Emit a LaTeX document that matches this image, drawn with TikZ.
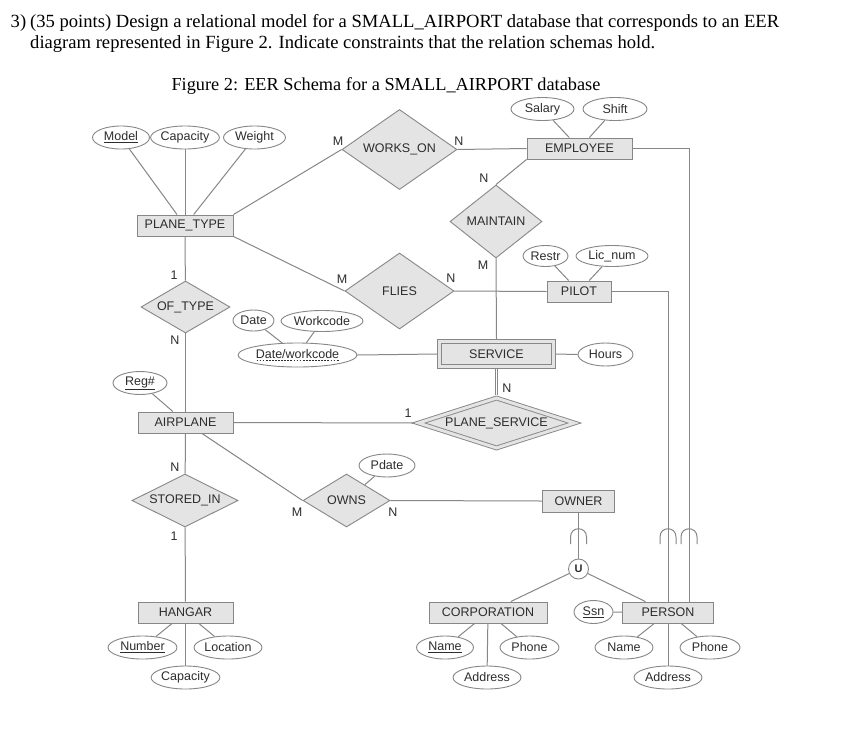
\documentclass[tikz,border=0pt]{standalone}
\usepackage{fontspec}
\setmainfont{Liberation Serif}
\setsansfont{Liberation Sans}
\usetikzlibrary{shapes.geometric}

\definecolor{linegray}{RGB}{135,135,135}
\definecolor{boxgray}{RGB}{228,228,228}
\definecolor{txtgray}{RGB}{45,45,45}

% dashed underline for a partial key
\newcommand{\dashunder}[1]{\setbox0=\hbox{#1}\rlap{\copy0}\raisebox{-2.5pt}{\hbox to \wd0{\xleaders\hbox to 3pt{\hss\vrule height 0.6pt width 1.8pt\hss}\hfill}}}

\begin{document}
\begin{tikzpicture}[
    x=1pt, y=-1pt,
    font=\sffamily\fontsize{12.5}{14}\selectfont,
    entity/.style={rectangle, draw=linegray, line width=0.9pt, fill=boxgray, text=txtgray, minimum height=21pt, inner sep=0pt},
    weak/.style={entity, double=boxgray, double distance=3pt, outer sep=2.5pt},
    relation/.style={diamond, draw=linegray, line width=0.9pt, fill=boxgray, text=txtgray, inner sep=0pt},
    weakrel/.style={relation, double=boxgray, double distance=3pt, outer sep=2.5pt},
    attr/.style={ellipse, draw=linegray, line width=0.9pt, fill=white, text=txtgray, minimum height=23pt, inner sep=0pt},
    card/.style={text=txtgray, inner sep=0pt},
    link/.style={draw=linegray, line width=1pt},
    header/.style={font=\rmfamily\fontsize{18.6}{22}\selectfont, anchor=base west, inner sep=0pt}
]
\fill [white] (0, 0) rectangle (845, 731);
\useasboundingbox (0, 0) rectangle (845, 731);

% --- Question text ---
\node (qnum) at (10.5, 27) [header] {3)};
\node (qline1) at (30, 27) [header] {(35 points) Design a relational model for a SMALL\_AIRPORT database that corresponds to an EER};
\node (qline2) at (30, 48) [header] {diagram represented in Figure 2. Indicate constraints that the relation schemas hold.};
\node (caption) at (386, 90) [header, anchor=base, font=\rmfamily\fontsize{18.3}{22}\selectfont] {Figure 2: EER Schema for a SMALL\_AIRPORT database};

% --- Nodes ---
% Plane type
\node (model) at (121, 137.5) [attr, minimum width=57pt] {\underline{Model}};
\node (capacity) at (185, 137.5) [attr, minimum width=66pt] {Capacity};
\node (weight) at (254.5, 137.5) [attr, minimum width=62pt] {Weight};
\node (ptype) at (185, 225.5) [entity, minimum width=96pt] {PLANE\_TYPE};

% Employee side
\node (workson) at (399.5, 149.5) [relation, aspect=1.44, minimum width=115pt, minimum height=80pt] {WORKS\_ON};
\node (employee) at (579.5, 148.5) [entity, minimum width=105pt] {EMPLOYEE};
\node (salary) at (542.5, 109) [attr, minimum width=63pt] {Salary};
\node (shift) at (615, 109) [attr, minimum width=64pt] {Shift};
\node (maintain) at (496, 221.5) [relation, aspect=1.26, minimum width=92pt, minimum height=73pt] {MAINTAIN};

% Pilot
\node (flies) at (399.5, 291) [relation, aspect=1.43, minimum width=109pt, minimum height=76pt] {FLIES};
\node (pilot) at (579, 291.5) [entity, minimum width=64pt] {PILOT};
\node (restr) at (545.5, 256) [attr, minimum width=45pt, minimum height=21pt] {Restr};
\node (licnum) at (612, 256) [attr, minimum width=72pt, minimum height=21pt] {Lic\_num};

% Airplane
\node (oftype) at (185.5, 307) [relation, aspect=1.71, minimum width=89pt, minimum height=52pt] {OF\_TYPE};
\node (airplane) at (185.5, 422.5) [entity, minimum width=95pt] {AIRPLANE};
\node (regno) at (140, 383) [attr, minimum width=54pt] {\underline{Reg\#}};

% Service (weak entity)
\node (service) at (496.5, 354) [weak, minimum width=114pt, minimum height=25pt] {SERVICE};
\node (hours) at (605.5, 354.5) [attr, minimum width=55pt] {Hours};
\node (datework) at (297.5, 355) [attr, minimum width=119pt, minimum height=24pt] {\dashunder{Date/workcode}};
\node (date) at (253.5, 320.5) [attr, minimum width=41pt, minimum height=21pt] {Date};
\node (workcode) at (322, 321) [attr, minimum width=82pt, minimum height=21pt] {Workcode};
\node (planeserv) at (496.5, 423) [weakrel, aspect=3.04, minimum width=158pt, minimum height=52pt] {PLANE\_SERVICE};

% Owns
\node (owns) at (346.5, 500.5) [relation, aspect=1.64, minimum width=87pt, minimum height=53pt] {OWNS};
\node (pdate) at (387, 465.5) [attr, minimum width=56pt] {Pdate};
\node (owner) at (578.5, 501) [entity, minimum width=72pt, minimum height=22pt] {OWNER};

% Hangar
\node (storedin) at (185, 500.5) [relation, aspect=2, minimum width=106pt, minimum height=53pt] {STORED\_IN};
\node (hangar) at (185.5, 612.5) [entity, minimum width=95pt] {HANGAR};
\node (hnumber) at (142.5, 647.5) [attr, minimum width=69pt] {\underline{Number}};
\node (hlocation) at (228, 647.5) [attr, minimum width=68pt] {Location};
\node (hcapacity) at (185.5, 677.5) [attr, minimum width=68pt] {Capacity};

% Union category
\node (union) at (578.5, 569) [circle, draw=linegray, line width=0.9pt, fill=white, minimum size=20pt, inner sep=0pt, text=txtgray, font=\sffamily\bfseries\fontsize{11}{12}\selectfont] {U};
\node (corp) at (488, 612.5) [entity, minimum width=118pt] {CORPORATION};
\node (cname) at (445, 647.5) [attr, minimum width=57pt] {\underline{Name}};
\node (cphone) at (529.5, 647.5) [attr, minimum width=59pt] {Phone};
\node (caddress) at (487, 677.5) [attr, minimum width=68pt] {Address};
\node (person) at (668, 612.5) [entity, minimum width=91pt] {PERSON};
\node (ssn) at (593.5, 612) [attr, minimum width=39pt] {\underline{Ssn}};
\node (pname) at (624, 647.5) [attr, minimum width=58pt] {Name};
\node (pphone) at (710, 647.5) [attr, minimum width=60pt] {Phone};
\node (paddress) at (668, 677.5) [attr, minimum width=68pt] {Address};

% Cardinalities
\node (cmwork) at (338, 141) [card] {M};
\node (cnwork) at (459, 141) [card] {N};
\node (cnmain) at (484, 178) [card] {N};
\node (cmmain) at (483, 265) [card] {M};
\node (c1type) at (174, 275) [card] {1};
\node (cntype) at (175, 340) [card] {N};
\node (cmflies) at (342, 279) [card] {M};
\node (cnflies) at (451, 278) [card] {N};
\node (c1serv) at (408, 413) [card] {1};
\node (cnserv) at (507, 388) [card] {N};
\node (cnstore) at (175, 467) [card] {N};
\node (c1store) at (174, 536) [card] {1};
\node (cmowns) at (297, 512) [card] {M};
\node (cnowns) at (393, 512) [card] {N};

% --- Edges ---
% Attributes
\draw [link] (model) -- (ptype);
\draw [link] (capacity) -- (ptype);
\draw [link] (weight) -- (ptype);
\draw [link] (salary) -- (employee);
\draw [link] (shift) -- (employee);
\draw [link] (restr) -- (pilot);
\draw [link] (licnum) -- (pilot);
\draw [link] (regno) -- (airplane);
\draw [link] (date) -- (datework);
\draw [link] (workcode) -- (datework);
\draw [link] (datework.east) -- (service.west);
\draw [link] (service.east) -- (hours.west);
\draw [link] (pdate) -- (owns);
\draw [link] (hangar) -- (hnumber);
\draw [link] (hangar) -- (hlocation);
\draw [link] (hangar) -- (hcapacity);
\draw [link] (corp) -- (cname);
\draw [link] (corp) -- (cphone);
\draw [link] (corp) -- (caddress);
\draw [link] (ssn) -- (person);
\draw [link] (person) -- (pname);
\draw [link] (person) -- (pphone);
\draw [link] (person) -- (paddress);

% Relationships
\draw [link] (ptype.north east) -- (workson.west);
\draw [link] (workson.east) -- (employee.west);
\draw [link] (employee.south west) -- (maintain.north);
\draw [link] (maintain.south) -- (service.north);
\draw [link] (ptype.south east) -- (flies.west);
\draw [link] (flies.east) -- (pilot.west);
\draw [link] (ptype) -- (oftype);
\draw [link] (oftype) -- (airplane);
\draw [link] (airplane.east) -- (planeserv.west);
\draw [link, double=white, double distance=1.8pt, line width=0.8pt] (service.south) -- (planeserv.north);
\draw [link] (airplane) -- (owns.west);
\draw [link] (owns.east) -- (owner.west);
\draw [link] (airplane) -- (storedin);
\draw [link] (storedin) -- (hangar);

% Union and subclasses
\draw [link] (owner) -- (union);
\draw [link] (union) -- (corp);
\draw [link] (union) -- (person);
\draw [link] (pilot.east) -| (person.north);
\draw [link] (employee.east) -| ([xshift=21pt]person.north);
\foreach \sx in {578.5, 668, 689}
  \draw [link] (\sx-8, 544) -- (\sx-8, 537) .. controls (\sx-8, 526) and (\sx+8, 526) .. (\sx+8, 537) -- (\sx+8, 544);

\end{tikzpicture}
\end{document}
